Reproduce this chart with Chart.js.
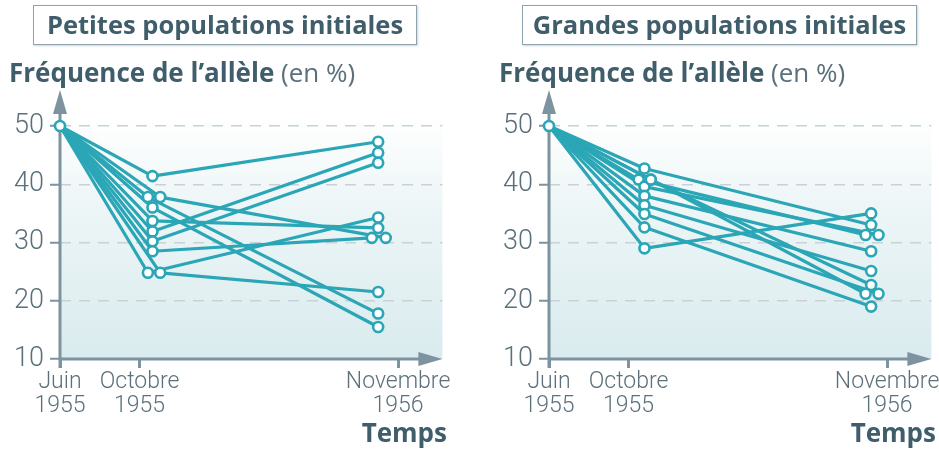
<!DOCTYPE html>
<html lang="fr">
<head>
<meta charset="utf-8">
<script src="https://cdn.jsdelivr.net/npm/chart.js@4.4.1/dist/chart.umd.min.js"></script>
<style>
  body { margin: 0; background: #fff; }
  #page { position: relative; width: 939px; height: 452px; overflow: hidden; font-family: 'Open Sans', sans-serif; color: #44616f; }
  .panel { position: absolute; top: 0; width: 450px; height: 452px; }
  .panel canvas { position: absolute; left: 0; top: 0; }
  .box { position: absolute; top: 5px; height: 38px; border: 1.5px solid #8ea3ad; background: #fff;
         box-shadow: 1px 1px 2px rgba(60, 80, 90, 0.25); font-weight: 700; font-size: 25.5px; line-height: 37px;
         text-align: center; color: #3f5d6b; z-index: 2; }
  .ytitle { position: absolute; top: 55px; font-size: 26px; line-height: 34px; white-space: nowrap; z-index: 2; }
  .ytitle b { font-weight: 700; color: #3f5d6b; }
  .ytitle span { font-weight: 400; color: #5b707b; }
  .temps { position: absolute; right: 3px; top: 416px; font-size: 26px; font-weight: 700; color: #3f5d6b; line-height: 32px; z-index: 2; }
</style>
</head>
<body>
<div id="page">
  <div class="panel" style="left:0">
    <canvas id="smallChart" width="450" height="452"></canvas>
    <div class="box" style="left:33px;width:382px">Petites populations initiales</div>
    <div class="ytitle" style="left:9px"><b>Fréquence de l’allèle</b> <span>(en %)</span></div>
    <div class="temps">Temps</div>
  </div>
  <div class="panel" style="left:489px">
    <canvas id="largeChart" width="450" height="452"></canvas>
    <div class="box" style="left:33px;width:393px">Grandes populations initiales</div>
    <div class="ytitle" style="left:10px"><b>Fréquence de l’allèle</b> <span>(en %)</span></div>
    <div class="temps">Temps</div>
  </div>
</div>
<script>
// months since June 1955
const monthTicks = [0, 4, 17]
const monthLabels = [['Juin', '1955'], ['Octobre', '1955'], ['Novembre', '1956']]
const yTicks = [10, 20, 30, 40, 50]
const startValue = 50

// Petites populations initiales
const smallOctX = [4.65, 4.42, 5.04, 4.65, 4.65, 4.65, 4.65, 4.65, 4.42, 5.04]
const smallOct  = [41.4, 37.8, 37.8, 36.0, 33.7, 31.9, 30.2, 28.5, 24.8, 24.8]
const smallNovX = [16.0, 16.0, 16.38, 16.0, 16.0, 16.0, 16.0, 15.68, 16.0, 16.0]
const smallNov  = [47.3, 17.8, 30.8, 15.5, 32.5, 45.4, 43.7, 30.8, 34.3, 21.5]

// Grandes populations initiales
const largeOctX = [4.8, 4.8, 4.51, 5.12, 4.8, 4.8, 4.8, 4.8, 4.8, 5.12]
const largeOct  = [29.0, 42.7, 40.8, 40.8, 39.6, 38.0, 36.4, 34.9, 32.6, 40.8]
const largeNovX = [16.2, 16.2, 15.92, 16.2, 16.57, 16.2, 16.2, 16.57, 16.2, 15.92]
const largeNov  = [35.0, 33.0, 31.3, 22.7, 31.3, 28.5, 25.1, 21.2, 19.0, 21.2]

const lineColor = '#2aa6b6'
const axisColor = '#7d939f'
const gridColor = '#c9d1d6'
const tickText = '#5b707b'

function buildDatasets(octX, oct, novX, nov) {
  const lines = oct.map((v, i) => ({
    data: [{ x: 0, y: startValue }, { x: octX[i], y: v }, { x: novX[i], y: nov[i] }],
    borderColor: lineColor,
    borderWidth: 3.2,
    borderJoinStyle: 'round',
    borderCapStyle: 'round',
    pointRadius: 0,
    clip: false,
    order: 1
  }))
  const points = [{ x: 0, y: startValue }]
  oct.forEach((v, i) => points.push({ x: octX[i], y: v }))
  nov.forEach((v, i) => points.push({ x: novX[i], y: v }))
  return [{
    data: points,
    showLine: false,
    pointRadius: 5,
    pointBorderWidth: 2.6,
    pointBackgroundColor: '#fff',
    pointBorderColor: lineColor,
    clip: false,
    order: 0
  }].concat(lines)
}

// background, arrows and axis lines
const decorPlugin = {
  id: 'decor',
  beforeDraw(chart) {
    const { ctx, chartArea: ca } = chart
    const g = ctx.createLinearGradient(0, ca.top - 10, 0, ca.bottom)
    g.addColorStop(0, '#ffffff')
    g.addColorStop(0.35, '#eef6f7')
    g.addColorStop(1, '#d9ebee')
    ctx.save()
    ctx.fillStyle = g
    ctx.fillRect(ca.left, ca.top - 10, ca.right - ca.left, ca.bottom - ca.top + 10)
    ctx.restore()
  },
  beforeDatasetsDraw(chart) {
    const { ctx, chartArea: ca, scales } = chart
    const x0 = scales.x.getPixelForValue(0)
    const yb = scales.y.getPixelForValue(10)
    ctx.save()
    ctx.strokeStyle = axisColor
    ctx.fillStyle = axisColor
    ctx.lineWidth = 3
    ctx.beginPath()
    ctx.moveTo(x0, yb + 9)
    ctx.lineTo(x0, ca.top - 14)
    ctx.moveTo(x0, yb)
    ctx.lineTo(ca.right - 20, yb)
    ctx.stroke()
    // y arrow
    ctx.beginPath()
    ctx.moveTo(x0, ca.top - 36)
    ctx.lineTo(x0 + 7, ca.top - 12)
    ctx.lineTo(x0 - 7, ca.top - 12)
    ctx.closePath()
    ctx.fill()
    // x arrow
    ctx.beginPath()
    ctx.moveTo(ca.right, yb)
    ctx.lineTo(ca.right - 24, yb - 7)
    ctx.lineTo(ca.right - 24, yb + 7)
    ctx.closePath()
    ctx.fill()
    ctx.restore()
  }
}

function makeChart(id, datasets) {
  const ctx = document.getElementById(id).getContext('2d')
  return new Chart(ctx, {
    type: 'line',
    data: { datasets },
    plugins: [decorPlugin],
    options: {
      responsive: false,
      animation: false,
      layout: { padding: { top: 126, right: 2, left: 0, bottom: 0 } },
      plugins: { legend: { display: false }, tooltip: { enabled: false } },
      scales: {
        x: {
          type: 'linear',
          min: 0,
          max: 19.23,
          afterBuildTicks: scale => { scale.ticks = monthTicks.map(v => ({ value: v })) },
          afterFit: scale => { scale.height = 93; scale.paddingLeft = 0; scale.paddingRight = 0 },
          border: { display: false },
          grid: { drawOnChartArea: false, drawTicks: true, tickLength: 9, tickColor: axisColor, tickWidth: 3 },
          ticks: {
            autoSkip: false,
            maxRotation: 0,
            padding: 2,
            color: tickText,
            font: { family: 'Roboto', size: 23, weight: 300, lineHeight: 1.05 },
            callback: (value, index) => monthLabels[index]
          }
        },
        y: {
          min: 10,
          max: 50,
          afterBuildTicks: scale => { scale.ticks = yTicks.map(v => ({ value: v })) },
          afterFit: scale => { scale.width = 60; scale.paddingTop = 0; scale.paddingBottom = 0 },
          border: { display: false, dash: [11, 8] },
          grid: {
            color: c => c.tick && c.tick.value === 10 ? 'rgba(0,0,0,0)' : gridColor,
            lineWidth: 1.5,
            tickLength: 10,
            tickColor: axisColor,
            tickWidth: 2,
            tickBorderDash: []
          },
          ticks: {
            padding: 6,
            color: tickText,
            font: { family: 'Roboto', size: 27, weight: 300 }
          }
        }
      }
    }
  })
}

makeChart('smallChart', buildDatasets(smallOctX, smallOct, smallNovX, smallNov))
makeChart('largeChart', buildDatasets(largeOctX, largeOct, largeNovX, largeNov))
</script>
</body>
</html>
